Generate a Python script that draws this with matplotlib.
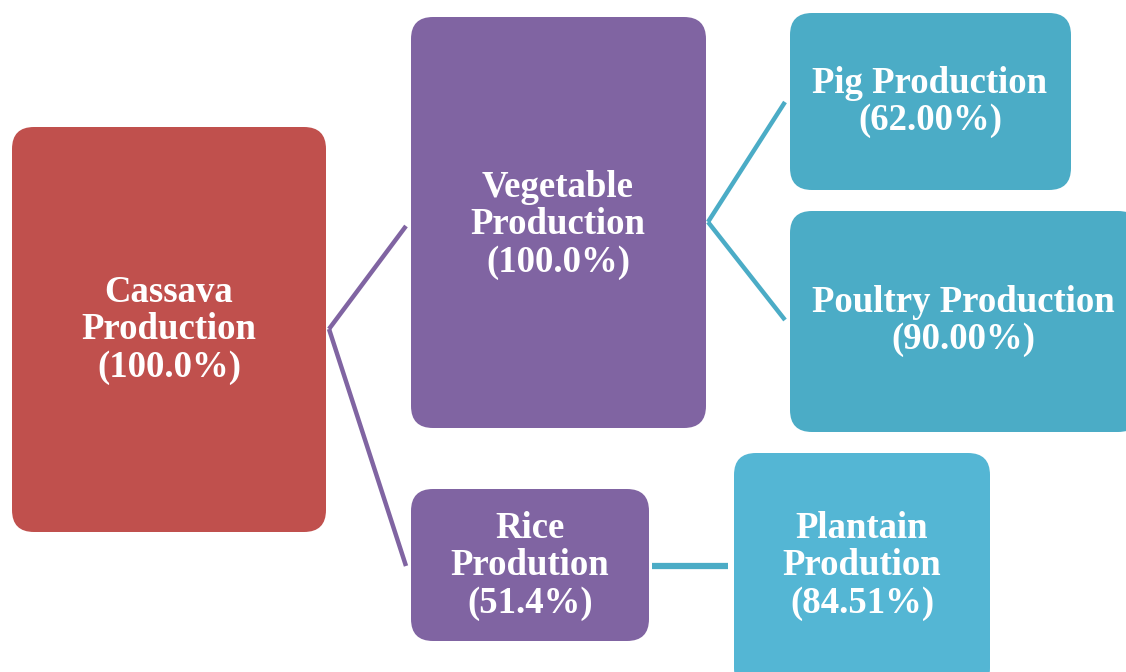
import matplotlib.pyplot as plt
from matplotlib.patches import FancyBboxPatch

labels = ["Cassava\nProduction\n(100.0%)",
          "Vegetable\nProduction\n(100.0%)",
          "Pig Production\n(62.00%)",
          "Poultry Production\n(90.00%)",
          "Rice\nProdution\n(51.4%)",
          "Plantain\nProdution\n(84.51%)"]
shares = [100.0, 100.0, 62.00, 90.00, 51.4, 84.51]

# layout (pixel boxes: x0, y0, x1, y1) and styling
boxes = [(12, 127, 326, 532), (411, 17, 706, 428), (790, 13, 1071, 190),
         (790, 211, 1140, 432), (411, 489, 649, 641), (734, 453, 990, 690)]
colors = ["#C0504D", "#8064A2", "#4BACC6", "#4BACC6", "#8064A2", "#54B6D4"]
text_pos = [(169, 330), (558, 225), (930, 102), (963, 321), (530, 566), (862, 566)]

W, H = 1126, 672
fig = plt.figure(figsize=(W / 100, H / 100), dpi=100)
ax = fig.add_axes([0, 0, 1, 1])
ax.set_xlim(0, W)
ax.set_ylim(H, 0)
ax.axis("off")

for (x0, y0, x1, y1), c in zip(boxes, colors):
    ax.add_patch(FancyBboxPatch((x0, y0), x1 - x0, y1 - y0,
                                boxstyle="round,pad=0,rounding_size=22",
                                facecolor=c, edgecolor="none", zorder=2))

for (tx, ty), lab in zip(text_pos, labels):
    ax.text(tx, ty, lab, ha="center", va="center", color="white",
            fontsize=26.5, fontweight="bold", family="Liberation Serif",
            linespacing=1.1, zorder=3)

# Cassava -> Vegetable / Rice
ax.plot([329, 406], [329, 226], color="#8064A2", lw=3.2, solid_capstyle="butt", zorder=1)
ax.plot([329, 406], [329, 566], color="#8064A2", lw=3.2, solid_capstyle="butt", zorder=1)
# Vegetable -> Pig / Poultry
ax.plot([708, 785], [222, 102], color="#4BACC6", lw=3.2, solid_capstyle="butt", zorder=1)
ax.plot([708, 785], [222, 320], color="#4BACC6", lw=3.2, solid_capstyle="butt", zorder=1)
# Rice -> Plantain
ax.plot([652, 728], [566, 566], color="#4BACC6", lw=4.5, solid_capstyle="butt", zorder=1)

fig.savefig("out.png", dpi=100, facecolor="white")
